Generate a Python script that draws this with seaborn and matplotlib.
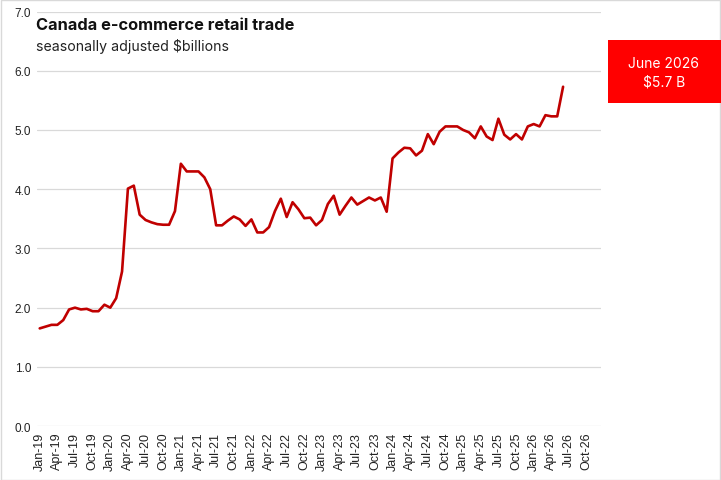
import numpy as np
import pandas as pd
import seaborn as sns
import matplotlib.pyplot as plt
from matplotlib.patches import Rectangle

# monthly e-commerce retail trade, seasonally adjusted, $billions (Jan-19 .. Jun-26)
values = [1.65, 1.68, 1.71, 1.71, 1.79, 1.97, 2.00, 1.97, 1.98, 1.94, 1.94, 2.05,
          2.00, 2.16, 2.61, 4.01, 4.06, 3.57, 3.48, 3.44, 3.41, 3.40, 3.40, 3.63,
          4.43, 4.30, 4.30, 4.30, 4.20, 4.00, 3.39, 3.39, 3.47, 3.54, 3.49, 3.38,
          3.49, 3.27, 3.27, 3.36, 3.63, 3.84, 3.53, 3.78, 3.66, 3.51, 3.52, 3.39,
          3.48, 3.75, 3.89, 3.57, 3.72, 3.86, 3.74, 3.80, 3.86, 3.81, 3.86, 3.62,
          4.52, 4.62, 4.70, 4.69, 4.57, 4.65, 4.93, 4.76, 4.97, 5.06, 5.06, 5.06,
          5.00, 4.96, 4.86, 5.06, 4.89, 4.83, 5.19, 4.92, 4.84, 4.93, 4.84, 5.06,
          5.10, 5.06, 5.25, 5.23, 5.23, 5.73]

# category axis runs Jan-19 .. Dec-26
months = pd.date_range("2019-01-01", "2026-12-01", freq="MS")
month_labels = [m.strftime("%b-%y") for m in months]
tick_step = 3

title = "Canada e-commerce retail trade"
subtitle = "seasonally adjusted $billions"
callout = "June 2026\n$5.7 B"

df = pd.DataFrame({"idx": np.arange(len(values)), "value": values})

sns.set_theme(style="white")
plt.rcParams["font.family"] = ["Liberation Sans", "DejaVu Sans"]

fig = plt.figure(figsize=(7.21, 4.81), dpi=100)
ax = fig.add_axes([0.051, 0.112, 0.783, 0.862])

sns.lineplot(data=df, x="idx", y="value", ax=ax, color="#c00000", linewidth=1.9)

ax.set_xlim(-0.5, len(month_labels) - 0.5)
ax.set_ylim(0, 7)
ax.set_yticks(np.arange(0, 7.5, 1.0))
ax.set_yticklabels([f"{v:.1f}" for v in np.arange(0, 7.5, 1.0)], fontsize=8.5, color="#222222")
ticks = np.arange(0, len(month_labels), tick_step)
ax.set_xticks(ticks)
ax.set_xticklabels([month_labels[i] for i in ticks], rotation=90, fontsize=9, color="#222222")
ax.tick_params(axis="both", length=0, pad=4)
ax.set_xlabel("")
ax.set_ylabel("")
ax.grid(axis="y", color="#d9d9d9", linewidth=0.9)
ax.set_axisbelow(True)
for s in ax.spines.values():
    s.set_visible(False)

# chart title inside plot area
fig.text(36 / 721, 1 - 30 / 481, title, fontsize=11.8, fontweight="bold",
         family=["Inter", "DejaVu Sans"], color="#111111")
fig.text(36 / 721, 1 - 51 / 481, subtitle, fontsize=10.2,
         family=["Inter", "DejaVu Sans"], color="#222222")

# red callout box
fig.patches.append(Rectangle((608 / 721, 1 - 104 / 481), 113 / 721, 63 / 481,
                             transform=fig.transFigure, facecolor="#ff0000",
                             edgecolor="none", zorder=3))
fig.text(664 / 721, 1 - 73 / 481, callout, ha="center", va="center", fontsize=10,
         color="white", linespacing=1.45, family=["Inter", "DejaVu Sans"], zorder=4)

# outer chart border
fig.patches.append(Rectangle((0.5 / 721, 0.5 / 481), 719.5 / 721, 479.5 / 481,
                             transform=fig.transFigure, facecolor="none",
                             edgecolor="#d9d9d9", linewidth=1, zorder=2))

fig.savefig("out.png", dpi=100)
